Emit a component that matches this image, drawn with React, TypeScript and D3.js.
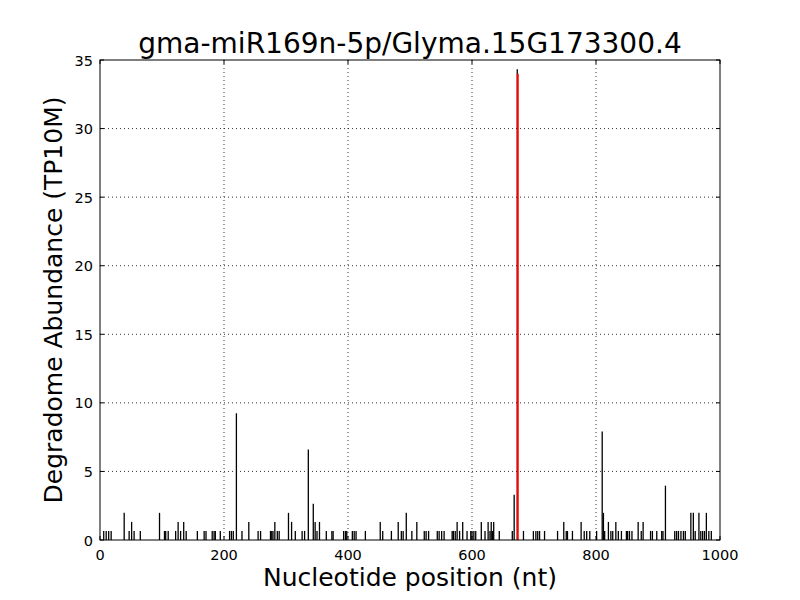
import React, { useEffect, useRef } from 'react'
import * as d3 from 'd3'

// degradome reads: position (nt) and abundance (TP10M)
const positions = [
  6, 10, 14, 18, 39, 47, 51, 55, 65, 96, 104, 106, 110, 122, 126, 130, 135, 139, 157, 168, 171, 181, 184,
  186, 194, 209, 212, 215, 220, 229, 240, 255, 259, 275, 277, 279, 282, 286, 289, 304, 309, 315, 326, 330,
  336, 344, 347, 350, 354, 365, 374, 376, 393, 396, 398, 407, 410, 413, 428, 452, 456, 470, 481, 486, 489,
  494, 503, 511, 523, 526, 530, 544, 547, 551, 555, 568, 570, 573, 576, 580, 585, 592, 598, 600, 603, 606,
  615, 621, 626, 629, 631, 633, 635, 644, 665, 668, 673, 683, 699, 703, 706, 709, 717, 738, 748, 752, 754,
  762, 776, 781, 785, 790, 801, 810, 812, 814, 820, 824, 827, 832, 836, 841, 849, 851, 854, 858, 868, 873,
  876, 888, 891, 898, 906, 908, 912, 927, 930, 933, 937, 941, 944, 953, 957, 960, 966, 969, 972, 975, 978,
  982, 986,
]
const abundance = [
  0.66, 0.66, 0.66, 0.66, 1.98, 0.66, 1.32, 0.66, 0.66, 1.98, 0.66, 0.66, 0.66, 0.66, 1.32, 0.66, 1.32, 0.66,
  0.66, 0.66, 0.66, 0.66, 0.66, 0.66, 0.66, 0.66, 0.66, 0.66, 9.24, 0.66, 1.32, 0.66, 0.66, 0.66, 0.66, 0.66,
  1.32, 0.66, 0.66, 1.98, 1.32, 0.66, 0.66, 0.66, 6.6, 2.64, 1.32, 0.66, 1.32, 0.66, 0.66, 0.66, 0.66, 0.66,
  0.66, 0.66, 0.66, 0.66, 0.66, 1.32, 0.66, 0.66, 1.32, 0.66, 0.66, 1.98, 0.66, 1.32, 0.66, 0.66, 0.66, 0.66,
  0.66, 0.66, 0.66, 0.66, 0.66, 0.66, 1.32, 0.66, 1.32, 0.66, 0.66, 0.66, 0.66, 0.66, 1.32, 0.66, 1.32, 0.66,
  1.32, 0.66, 1.32, 0.66, 0.66, 3.3, 34.32, 0.66, 0.66, 0.66, 0.66, 0.66, 0.66, 0.66, 1.32, 0.66, 0.66, 0.66,
  1.32, 0.66, 0.66, 0.66, 0.66, 7.92, 1.98, 0.66, 1.32, 0.66, 0.66, 1.32, 0.66, 0.66, 0.66, 0.66, 0.66, 0.66,
  1.32, 0.66, 1.32, 0.66, 0.66, 0.66, 0.66, 0.66, 3.96, 0.66, 0.66, 0.66, 0.66, 0.66, 0.66, 1.98, 1.98, 0.66,
  1.98, 0.66, 0.66, 0.66, 1.98, 0.66, 0.66,
]

// predicted cleavage site
const sitePos = 673
const siteValue = 34

const xTicks = [0, 200, 400, 600, 800, 1000]
const yTicks = [0, 5, 10, 15, 20, 25, 30, 35]

const title = 'gma-miR169n-5p/Glyma.15G173300.4'
const xLabel = 'Nucleotide position (nt)'
const yLabel = 'Degradome Abundance (TP10M)'

const font = '"DejaVu Sans", sans-serif'

export default function App() {
  const ref = useRef<SVGSVGElement>(null)

  useEffect(() => {
    const svg = d3.select(ref.current)
    svg.selectAll('*').remove()

    const left = 100
    const right = 720
    const top = 60
    const bottom = 540

    const x = d3.scaleLinear().domain([0, 1000]).range([left, right])
    const y = d3.scaleLinear().domain([0, 35]).range([bottom, top])

    svg.append('rect').attr('width', 800).attr('height', 600).attr('fill', '#fff')

    // grid
    const grid = svg.append('g').attr('stroke', '#000').attr('stroke-width', 0.8).attr('stroke-dasharray', '1,3')
    xTicks.slice(1, -1).forEach(t => {
      grid.append('line').attr('x1', x(t)).attr('x2', x(t)).attr('y1', top).attr('y2', bottom)
    })
    yTicks.slice(1, -1).forEach(t => {
      grid.append('line').attr('x1', left).attr('x2', right).attr('y1', y(t)).attr('y2', y(t))
    })

    // bars
    svg
      .append('g')
      .selectAll('line')
      .data(positions.map((p, i) => ({ p, v: abundance[i] })))
      .enter()
      .append('line')
      .attr('x1', d => x(d.p))
      .attr('x2', d => x(d.p))
      .attr('y1', y(0))
      .attr('y2', d => y(d.v))
      .attr('stroke', '#000')
      .attr('stroke-width', 1.3)

    svg
      .append('line')
      .attr('x1', x(sitePos) + 0.5)
      .attr('x2', x(sitePos) + 0.5)
      .attr('y1', y(0))
      .attr('y2', y(siteValue))
      .attr('stroke', 'red')
      .attr('stroke-width', 2)

    // frame + ticks (inside, all four sides)
    const axes = svg.append('g').attr('stroke', '#000').attr('stroke-width', 1)
    xTicks.forEach(t => {
      axes.append('line').attr('x1', x(t)).attr('x2', x(t)).attr('y1', bottom).attr('y2', bottom - 4)
      axes.append('line').attr('x1', x(t)).attr('x2', x(t)).attr('y1', top).attr('y2', top + 4)
    })
    yTicks.forEach(t => {
      axes.append('line').attr('x1', left).attr('x2', left + 4).attr('y1', y(t)).attr('y2', y(t))
      axes.append('line').attr('x1', right).attr('x2', right - 4).attr('y1', y(t)).attr('y2', y(t))
    })
    axes
      .append('rect')
      .attr('x', left)
      .attr('y', top)
      .attr('width', right - left)
      .attr('height', bottom - top)
      .attr('fill', 'none')

    const txt = svg.append('g').attr('font-family', font).attr('fill', '#000')
    xTicks.forEach(t => {
      txt
        .append('text')
        .attr('x', x(t))
        .attr('y', bottom + 20)
        .attr('text-anchor', 'middle')
        .attr('font-size', 14.5)
        .text(t)
    })
    yTicks.forEach(t => {
      txt
        .append('text')
        .attr('x', left - 7)
        .attr('y', y(t) + 5.5)
        .attr('text-anchor', 'end')
        .attr('font-size', 14.5)
        .text(t)
    })

    txt
      .append('text')
      .attr('x', (left + right) / 2)
      .attr('y', 53)
      .attr('text-anchor', 'middle')
      .attr('font-size', 28)
      .text(title)
    txt
      .append('text')
      .attr('x', (left + right) / 2)
      .attr('y', 586)
      .attr('text-anchor', 'middle')
      .attr('font-size', 25)
      .text(xLabel)
    txt
      .append('text')
      .attr('transform', `translate(61.5,${(top + bottom) / 2}) rotate(-90)`)
      .attr('text-anchor', 'middle')
      .attr('font-size', 25)
      .text(yLabel)
  }, [])

  return (
    <div style={{ position: 'absolute', left: 0, top: 0 }}>
      <svg ref={ref} width={800} height={600} style={{ display: 'block' }} />
    </div>
  )
}
